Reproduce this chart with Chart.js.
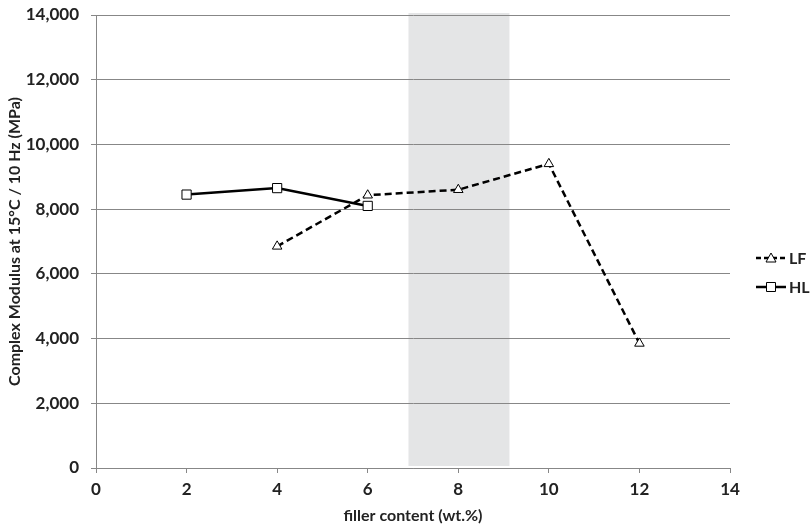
<!DOCTYPE html>
<html>
<head>
<meta charset="utf-8">
<script src="https://cdn.jsdelivr.net/npm/chart.js@4.4.1/dist/chart.umd.min.js"></script>
<style>
  html, body { margin: 0; padding: 0; background: #ffffff; }
  #wrap { position: relative; width: 811px; height: 528px; }
</style>
</head>
<body>
<div id="wrap"><canvas id="c" width="811" height="528"></canvas></div>
<script>
// ---- Data ----
const lfX = [4, 6, 8, 10, 12];
const lfY = [6850, 8430, 8600, 9400, 3850];
const hlX = [2, 4, 6];
const hlY = [8450, 8650, 8100];
const seriesNames = ['LF', 'HL'];
const bandRange = [6.9, 9.13];   // shaded range on the x axis (wt.%)
const xTicks = [0, 2, 4, 6, 8, 10, 12, 14];
const yTicks = [0, 2000, 4000, 6000, 8000, 10000, 12000, 14000];
const xTitle = 'filler content (wt.%)';
const yTitle = 'Complex Modulus at 15°C / 10 Hz (MPa)';

const FONT = 'Lato, "Open Sans", sans-serif';
const GRID = '#878787';

const bandPlugin = {
  id: 'band',
  beforeDraw(chart) {
    const { ctx, chartArea, scales } = chart;
    const x1 = scales.x.getPixelForValue(bandRange[0]);
    const x2 = scales.x.getPixelForValue(bandRange[1]);
    ctx.save();
    ctx.fillStyle = '#e4e5e6';
    ctx.fillRect(x1, chartArea.top - 2, x2 - x1, chartArea.bottom - chartArea.top);
    ctx.restore();
  }
};

const legendPlugin = {
  id: 'customLegend',
  afterDraw(chart) {
    const { ctx } = chart;
    const rows = [
      { name: seriesNames[0], y: 258, dash: [5, 3], marker: 'triangle' },
      { name: seriesNames[1], y: 287, dash: [], marker: 'rect' }
    ];
    ctx.save();
    rows.forEach(r => {
      ctx.strokeStyle = '#000';
      ctx.lineWidth = 2.5;
      ctx.setLineDash(r.dash);
      ctx.beginPath();
      ctx.moveTo(756, r.y);
      ctx.lineTo(786, r.y);
      ctx.stroke();
      ctx.setLineDash([]);
      ctx.lineWidth = 1;
      ctx.fillStyle = '#fff';
      ctx.beginPath();
      if (r.marker === 'triangle') {
        ctx.moveTo(771, r.y - 5);
        ctx.lineTo(776, r.y + 4);
        ctx.lineTo(766, r.y + 4);
        ctx.closePath();
      } else {
        ctx.rect(766.5, r.y - 4.5, 9, 9);
      }
      ctx.fill();
      ctx.stroke();
      ctx.fillStyle = '#222';
      ctx.font = 'bold 16px ' + FONT;
      ctx.textBaseline = 'middle';
      ctx.textAlign = 'left';
      ctx.fillText(r.name, 789, r.y + 1);
    });
    ctx.restore();
  }
};

new Chart(document.getElementById('c'), {
  type: 'line',
  data: {
    datasets: [
      {
        label: seriesNames[0],
        data: lfX.map((x, i) => ({ x, y: lfY[i] })),
        borderColor: '#000',
        borderWidth: 2.5,
        borderDash: [7, 4],
        pointStyle: 'triangle',
        pointRadius: 5.5,
        pointBackgroundColor: '#fff',
        pointBorderColor: '#000',
        pointBorderWidth: 1,
        tension: 0
      },
      {
        label: seriesNames[1],
        data: hlX.map((x, i) => ({ x, y: hlY[i] })),
        borderColor: '#000',
        borderWidth: 2.5,
        pointStyle: 'rect',
        pointRadius: 6.5,
        pointBackgroundColor: '#fff',
        pointBorderColor: '#000',
        pointBorderWidth: 1,
        tension: 0
      }
    ]
  },
  options: {
    responsive: false,
    animation: false,
    devicePixelRatio: 1,
    layout: { padding: { left: 0, right: 81, top: 15, bottom: 0 } },
    plugins: { legend: { display: false }, tooltip: { enabled: false } },
    scales: {
      x: {
        type: 'linear',
        min: 0, max: 14,
        afterFit: s => { s.height = 60; s.paddingLeft = 0; s.paddingRight = 0; },
        afterBuildTicks: s => { s.ticks = xTicks.map(v => ({ value: v })); },
        ticks: {
          color: '#222',
          font: { family: FONT, size: 17, weight: 'bold' },
          padding: 6
        },
        grid: { display: true, drawOnChartArea: false, drawTicks: true, tickLength: 5, color: GRID },
        border: { display: true, color: GRID, width: 1 },
        title: {
          display: true, text: xTitle, color: '#222',
          font: { family: FONT, size: 16, weight: 'bold' },
          padding: { top: 0, bottom: 3 }
        }
      },
      y: {
        type: 'linear',
        min: 0, max: 14000,
        afterFit: s => { s.width = 96; s.paddingTop = 0; s.paddingBottom = 0; },
        afterBuildTicks: s => { s.ticks = yTicks.map(v => ({ value: v })); },
        ticks: {
          color: '#222',
          font: { family: FONT, size: 17, weight: 'bold' },
          padding: 12,
          callback: v => v.toLocaleString('en-US')
        },
        grid: { color: GRID, lineWidth: 1, drawTicks: true, tickLength: 5 },
        border: { display: true, color: GRID, width: 1 },
        title: {
          display: true, text: yTitle, color: '#222',
          font: { family: FONT, size: 16, weight: 'bold' },
          padding: { top: 5, bottom: 0 }
        }
      }
    }
  },
  plugins: [bandPlugin, legendPlugin]
});
</script>
</body>
</html>
